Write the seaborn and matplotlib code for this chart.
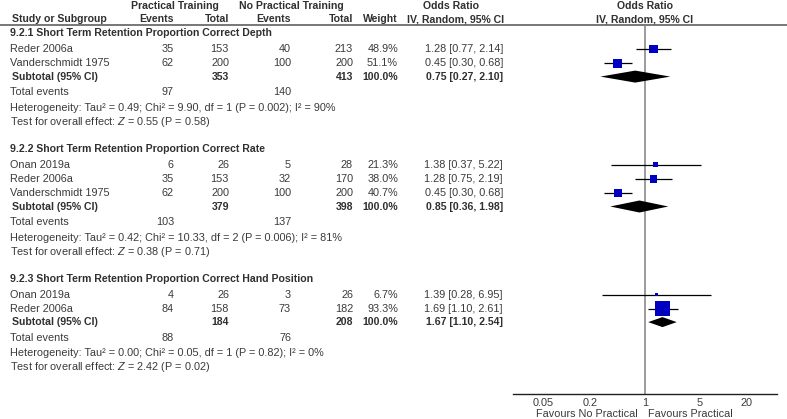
import matplotlib
matplotlib.use("Agg")
import matplotlib.pyplot as plt
import numpy as np
import pandas as pd
import seaborn as sns

# Data
group_titles = [
    "9.2.1 Short Term Retention Proportion Correct Depth",
    "9.2.2 Short Term Retention Proportion Correct Rate",
    "9.2.3 Short Term Retention Proportion Correct Hand Position",
]
study_names = [
    ["Reder 2006a", "Vanderschmidt 1975"],
    ["Onan 2019a", "Reder 2006a", "Vanderschmidt 1975"],
    ["Onan 2019a", "Reder 2006a"],
]
events_p = [[35, 62], [6, 35, 62], [4, 84]]
total_p = [[153, 200], [26, 153, 200], [26, 158]]
events_n = [[40, 100], [5, 32, 100], [3, 73]]
total_n = [[213, 200], [28, 170, 200], [26, 182]]
weights = [[48.9, 51.1], [21.3, 38.0, 40.7], [6.7, 93.3]]
odds = [[1.28, 0.45], [1.38, 1.28, 0.45], [1.39, 1.69]]
ci_lo = [[0.77, 0.30], [0.37, 0.75, 0.30], [0.28, 1.10]]
ci_hi = [[2.14, 0.68], [5.22, 2.19, 0.68], [6.95, 2.61]]

sub_total_p = [353, 379, 184]
sub_total_n = [413, 398, 208]
sub_or = [0.75, 0.85, 1.67]
sub_lo = [0.27, 0.36, 1.10]
sub_hi = [2.10, 1.98, 2.54]
sum_events_p = [97, 103, 88]
sum_events_n = [140, 137, 76]
heterogeneity = [
    "Heterogeneity: Tau² = 0.49; Chi² = 9.90, df = 1 (P = 0.002); I² = 90%",
    "Heterogeneity: Tau² = 0.42; Chi² = 10.33, df = 2 (P = 0.006); I² = 81%",
    "Heterogeneity: Tau² = 0.00; Chi² = 0.05, df = 1 (P = 0.82); I² = 0%",
]
overall = [
    "Test for overall effect: $Z$ = 0.55 (P = 0.58)",
    "Test for overall effect: $Z$ = 0.38 (P = 0.71)",
    "Test for overall effect: $Z$ = 2.42 (P = 0.02)",
]
axis_ticks = [0.05, 0.2, 1, 5, 20]
axis_ticklabels = ["0.05", "0.2", "1", "5", "20"]

sns.set_theme(style="white")
plt.rcParams["font.family"] = ["Liberation Sans", "DejaVu Sans"]
plt.rcParams["mathtext.fontset"] = "custom"
plt.rcParams["mathtext.rm"] = "Liberation Sans"
plt.rcParams["mathtext.it"] = "Liberation Sans:italic"

W, H = 787, 419
fig = plt.figure(figsize=(W / 100, H / 100), dpi=100)
ax = fig.add_axes([0, 0, 1, 1])
ax.set_xlim(0, W)
ax.set_ylim(H, 0)
ax.axis("off")

txt = "#3a3a3a"
txtb = "#303030"
fs = 7.8
fsb = 7.6

def put(x, y, s, ha="left", bold=False, **kw):
    ax.text(x, y, s, ha=ha, va="center", color=txtb if bold else txt,
            fontsize=fsb if bold else fs,
            fontweight="bold" if bold else "normal", **kw)

# column right edges
c_ep, c_tp, c_en, c_tn, c_w, c_or = 174, 229, 291, 353, 398, 503

# header
put(175, 6, "Practical Training", ha="center", bold=True)
put(291, 6, "No Practical Training", ha="center", bold=True)
put(451, 6, "Odds Ratio", ha="center", bold=True)
put(645, 6, "Odds Ratio", ha="center", bold=True)
put(12, 19, "Study or Subgroup", bold=True)
put(c_ep, 19, "Events", ha="right", bold=True)
put(c_tp, 19, "Total", ha="right", bold=True)
put(c_en, 19, "Events", ha="right", bold=True)
put(c_tn, 19, "Total", ha="right", bold=True)
put(c_w, 19, "Weight", ha="right", bold=True)
put(456, 19, "IV, Random, 95% CI", ha="center", bold=True)
put(645, 19, "IV, Random, 95% CI", ha="center", bold=True)
ax.axhline(25.5, color="#606060", lw=1.2)

# forest panel shares the pixel rows of the table
fx0, fx1, fy0, fy1 = 513, 777, 25.5, 393.5
fa = fig.add_axes([fx0 / W, 1 - fy1 / H, (fx1 - fx0) / W, (fy1 - fy0) / H])
fa.set_facecolor("none")
fa.set_xscale("log")
fa.set_xlim(0.0207, 48.3)
fa.set_ylim(fy1, fy0)
for sp in ["top", "right", "left"]:
    fa.spines[sp].set_visible(False)
fa.spines["bottom"].set_color("#202020")
fa.spines["bottom"].set_linewidth(1.0)
fa.set_yticks([])
fa.set_xticks(axis_ticks)
fa.set_xticklabels(axis_ticklabels)
fa.minorticks_off()
fa.tick_params(axis="x", direction="inout", length=7, width=1, color="#202020",
               pad=0, labelsize=fs, labelcolor=txt)
fa.axvline(1, color="#808080", lw=1.1, zorder=1)

rows = []
y = 33
for g in range(len(group_titles)):
    put(10, y, group_titles[g], bold=True)
    y += 16
    for i, name in enumerate(study_names[g]):
        put(10, y, name)
        put(c_ep, y, str(events_p[g][i]), ha="right")
        put(c_tp, y, str(total_p[g][i]), ha="right")
        put(c_en, y, str(events_n[g][i]), ha="right")
        put(c_tn, y, str(total_n[g][i]), ha="right")
        put(c_w, y, f"{weights[g][i]:.1f}%", ha="right")
        put(c_or, y, f"{odds[g][i]:.2f} [{ci_lo[g][i]:.2f}, {ci_hi[g][i]:.2f}]", ha="right")
        rows.append(dict(y=y, odds=odds[g][i], lo=ci_lo[g][i], hi=ci_hi[g][i],
                         w=weights[g][i]))
        y += 14.3
    y -= 1
    put(12, y, "Subtotal (95% CI)", bold=True)
    put(c_tp, y, str(sub_total_p[g]), ha="right", bold=True)
    put(c_tn, y, str(sub_total_n[g]), ha="right", bold=True)
    put(c_w, y, "100.0%", ha="right", bold=True)
    put(c_or, y, f"{sub_or[g]:.2f} [{sub_lo[g]:.2f}, {sub_hi[g]:.2f}]", ha="right", bold=True)
    half = 6 if g < 2 else 5
    fa.fill([sub_lo[g], sub_or[g], sub_hi[g], sub_or[g]],
            [y, y - half, y, y + half], color="black", lw=0, zorder=3)
    y += 15.7
    put(10, y, "Total events")
    put(c_ep, y, str(sum_events_p[g]), ha="right")
    put(c_en, y, str(sum_events_n[g]), ha="right")
    y += 15.3
    put(10, y, heterogeneity[g])
    y += 14
    put(10, y, overall[g])
    y += 27

df = pd.DataFrame(rows)
fa.hlines(df["y"], df["lo"], df["hi"], color="black", lw=0.9, zorder=2)
side = 2 + 0.14 * df["w"].to_numpy()          # square side in pixels
sns.scatterplot(data=df, x="odds", y="y", marker="s", s=(side * 0.72) ** 2,
                color="#0000c0", linewidth=0, ax=fa, zorder=4, legend=False)
fa.set_xlabel("")
fa.set_ylabel("")

put(638, 414, "Favours No Practical", ha="right")
put(648, 414, "Favours Practical", ha="left")

fig.savefig("out.png", dpi=100)
